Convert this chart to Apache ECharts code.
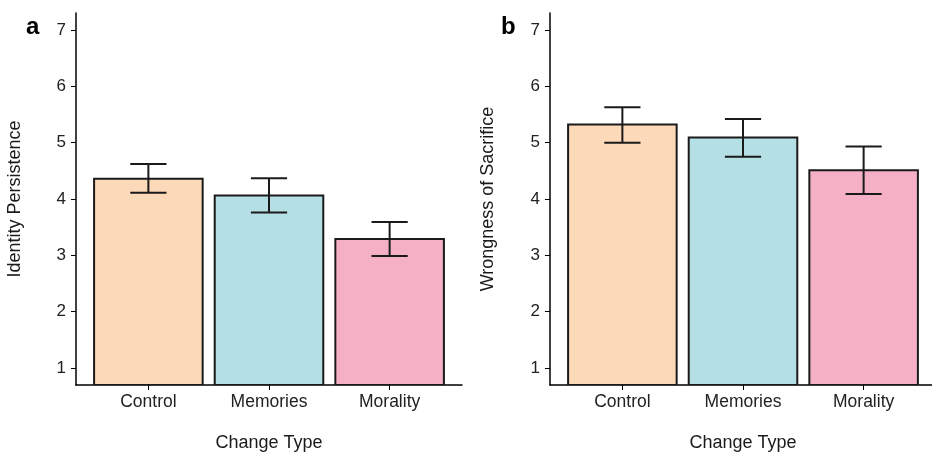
<!DOCTYPE html>
<html>
<head>
<meta charset="utf-8">
<script src="https://cdn.jsdelivr.net/npm/echarts@6/dist/echarts.min.js"></script>
<style>html,body{margin:0;padding:0;background:#fff;overflow:hidden}#c{width:932px;height:453px}</style>
</head>
<body>
<div id="c"></div>
<script>
const categories = ['Control', 'Memories', 'Morality'];
const yTicks = [1, 2, 3, 4, 5, 6, 7];
const barColors = ['#FCD9B8', '#B3DFE5', '#F5B0C5'];
const identityMean = [4.36, 4.06, 3.29];
const identityLow = [4.11, 3.76, 2.99];
const identityHigh = [4.62, 4.37, 3.59];
const wrongMean = [5.32, 5.09, 4.51];
const wrongLow = [5.00, 4.75, 4.09];
const wrongHigh = [5.63, 5.42, 4.93];

const Y_MIN = 0.7, Y_MAX = 7.3;
const FONT = 'Liberation Sans, Arial, sans-serif';

const chart = echarts.init(document.getElementById('c'), null, {renderer: 'canvas', width: 932, height: 453});

function barRender(params, api) {
  const x = api.value(0), y = api.value(1);
  const p1 = api.coord([x - 0.45, y]);
  const p2 = api.coord([x + 0.45, Y_MIN]);
  return {
    type: 'rect',
    shape: {x: p1[0], y: p1[1], width: p2[0] - p1[0], height: p2[1] - p1[1]},
    style: {fill: barColors[params.dataIndex], stroke: '#1a1a1a', lineWidth: 2}
  };
}
function errRender(params, api) {
  const x = api.value(0), lo = api.value(1), hi = api.value(2);
  const top = api.coord([x, hi]), bot = api.coord([x, lo]);
  const half = (api.coord([x + 0.15, hi])[0] - top[0]);
  const st = {stroke: '#1a1a1a', lineWidth: 2};
  return {
    type: 'group',
    children: [
      {type: 'line', shape: {x1: top[0], y1: top[1], x2: bot[0], y2: bot[1]}, style: st},
      {type: 'line', shape: {x1: top[0] - half, y1: top[1], x2: top[0] + half, y2: top[1]}, style: st},
      {type: 'line', shape: {x1: bot[0] - half, y1: bot[1], x2: bot[0] + half, y2: bot[1]}, style: st}
    ]
  };
}

function xAxis(idx) {
  return {
    type: 'value', gridIndex: idx, min: 0.4, max: 3.6,
    name: 'Change Type', nameLocation: 'middle', nameGap: 49,
    nameTextStyle: {fontFamily: FONT, fontSize: 18, color: '#1a1a1a'},
    splitLine: {show: false},
    axisLine: {show: true, lineStyle: {color: '#000', width: 1.5}},
    axisTick: {show: true, customValues: [1, 2, 3], length: 5, lineStyle: {color: '#000', width: 1}},
    axisLabel: {customValues: [1, 2, 3], formatter: v => categories[Math.round(v) - 1],
      fontFamily: FONT, fontSize: 17.5, color: '#222', margin: 8}
  };
}
function yAxis(idx, name, gap) {
  return {
    type: 'value', gridIndex: idx, min: Y_MIN, max: Y_MAX,
    name: name, nameLocation: 'middle', nameGap: gap,
    nameTextStyle: {fontFamily: FONT, fontSize: 18, color: '#1a1a1a'},
    splitLine: {show: false},
    axisLine: {show: true, lineStyle: {color: '#000', width: 1.5}},
    axisTick: {show: true, customValues: yTicks, length: 5, lineStyle: {color: '#000', width: 1}},
    axisLabel: {customValues: yTicks, fontFamily: FONT, fontSize: 17, color: '#222', margin: 10}
  };
}

const option = {
  animation: false,
  backgroundColor: '#fff',
  title: [
    {text: 'a', left: 21, top: 10, textStyle: {fontFamily: FONT, fontSize: 24, fontWeight: 'bold', color: '#000'}},
    {text: 'b', left: 496, top: 10, textStyle: {fontFamily: FONT, fontSize: 24, fontWeight: 'bold', color: '#000'}}
  ],
  grid: [
    {left: 76, top: 13, width: 386, height: 372, outerBoundsMode: 'none', containLabel: false},
    {left: 550, top: 13, width: 386, height: 372, outerBoundsMode: 'none', containLabel: false}
  ],
  xAxis: [xAxis(0), xAxis(1)],
  yAxis: [yAxis(0, 'Identity Persistence', 52), yAxis(1, 'Wrongness of Sacrifice', 53)],
  series: [
    {type: 'custom', xAxisIndex: 0, yAxisIndex: 0, renderItem: barRender, clip: true,
      data: categories.map((c, i) => [i + 1, identityMean[i]])},
    {type: 'custom', xAxisIndex: 0, yAxisIndex: 0, renderItem: errRender,
      data: categories.map((c, i) => [i + 1, identityLow[i], identityHigh[i]])},
    {type: 'custom', xAxisIndex: 1, yAxisIndex: 1, renderItem: barRender, clip: true,
      data: categories.map((c, i) => [i + 1, wrongMean[i]])},
    {type: 'custom', xAxisIndex: 1, yAxisIndex: 1, renderItem: errRender,
      data: categories.map((c, i) => [i + 1, wrongLow[i], wrongHigh[i]])}
  ]
};
chart.setOption(option);
</script>
</body>
</html>
